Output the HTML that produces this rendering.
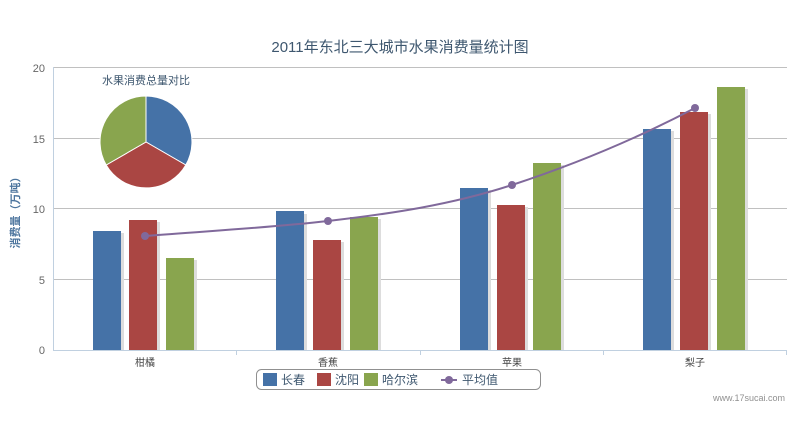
<!DOCTYPE html>
<html><head><meta charset="utf-8"><style>
body{margin:0;background:#fff;}
svg text{font-family:"Liberation Sans","Noto Sans CJK SC",sans-serif;}
</style></head><body>
<svg width="800" height="431" viewBox="0 0 800 431" xmlns="http://www.w3.org/2000/svg">
<rect width="800" height="431" fill="#fff"/>
<text x="400" y="52" text-anchor="middle" font-size="15" fill="#3E576F">2011年东北三大城市水果消费量统计图</text>
<g stroke="#C0C0C0" stroke-width="1">
<line x1="53" y1="67.5" x2="787" y2="67.5"/>
<line x1="53" y1="138.5" x2="787" y2="138.5"/>
<line x1="53" y1="208.5" x2="787" y2="208.5"/>
<line x1="53" y1="279.5" x2="787" y2="279.5"/>
</g>
<line x1="53.5" y1="67" x2="53.5" y2="350" stroke="#C0D0E0"/>
<line x1="53" y1="350.5" x2="787" y2="350.5" stroke="#C0D0E0"/>
<g stroke="#C0D0E0"><line x1="236.5" y1="350" x2="236.5" y2="355"/><line x1="420.5" y1="350" x2="420.5" y2="355"/><line x1="603.5" y1="350" x2="603.5" y2="355"/><line x1="786.5" y1="350" x2="786.5" y2="355"/></g>
<g font-size="11" fill="#666" text-anchor="end">
<text x="45" y="72">20</text><text x="45" y="143">15</text><text x="45" y="213">10</text><text x="45" y="284">5</text><text x="45" y="354">0</text>
</g>
<text transform="translate(19,210) rotate(-90)" text-anchor="middle" font-size="11" font-weight="bold" fill="#4D759E">消费量（万吨）</text>
<g fill="#ddd">
<rect x="96" y="233" width="28" height="117"/><rect x="132" y="222" width="28" height="128"/><rect x="169" y="260" width="28" height="90"/>
<rect x="279" y="214" width="28" height="136"/><rect x="316" y="242" width="28" height="108"/><rect x="353" y="219" width="28" height="131"/>
<rect x="463" y="190" width="28" height="160"/><rect x="500" y="207" width="28" height="143"/><rect x="536" y="165" width="28" height="185"/>
<rect x="646" y="131" width="28" height="219"/><rect x="683" y="114" width="28" height="236"/><rect x="720" y="89" width="28" height="261"/>
</g>
<g fill="#4572A7"><rect x="93" y="231" width="28" height="119"/><rect x="276" y="211" width="28" height="139"/><rect x="460" y="188" width="28" height="162"/><rect x="643" y="129" width="28" height="221"/></g>
<g fill="#AA4643"><rect x="129" y="220" width="28" height="130"/><rect x="313" y="240" width="28" height="110"/><rect x="497" y="205" width="28" height="145"/><rect x="680" y="112" width="28" height="238"/></g>
<g fill="#89A54E"><rect x="166" y="258" width="28" height="92"/><rect x="350" y="217" width="28" height="133"/><rect x="533" y="163" width="28" height="187"/><rect x="717" y="87" width="28" height="263"/></g>
<path d="M145,236 C206,231 267,228 328,221 C389,214 451,205 512,185 C573,165 634,140 695,108" fill="none" stroke="#80699B" stroke-width="2"/>
<g fill="#80699B"><circle cx="145" cy="236" r="4"/><circle cx="328" cy="221" r="4"/><circle cx="512" cy="185" r="4"/><circle cx="695" cy="108" r="4"/></g>
<text x="146" y="84" text-anchor="middle" font-size="11" fill="#3E576F">水果消费总量对比</text>
<g stroke="#fff" stroke-width="1">
<path d="M146,142 L146,96 A46,46 0 0 1 185.8,165 Z" fill="#4572A7"/>
<path d="M146,142 L185.8,165 A46,46 0 0 1 106.2,165 Z" fill="#AA4643"/>
<path d="M146,142 L106.2,165 A46,46 0 0 1 146,96 Z" fill="#89A54E"/>
</g>
<g font-size="10" fill="#444" text-anchor="middle">
<text x="145" y="366">柑橘</text><text x="328" y="366">香蕉</text><text x="512" y="366">苹果</text><text x="695" y="366">梨子</text>
</g>
<rect x="256.5" y="369.5" width="284" height="20" rx="5" fill="#fff" stroke="#909090"/>
<rect x="263" y="373" width="14" height="13" fill="#4572A7"/><text x="281" y="384" font-size="12" fill="#3E576F">长春</text>
<rect x="317" y="373" width="14" height="13" fill="#AA4643"/><text x="335" y="384" font-size="12" fill="#3E576F">沈阳</text>
<rect x="364" y="373" width="14" height="13" fill="#89A54E"/><text x="382" y="384" font-size="12" fill="#3E576F">哈尔滨</text>
<line x1="441" y1="380" x2="457" y2="380" stroke="#80699B" stroke-width="2"/><circle cx="449" cy="380" r="4" fill="#80699B"/><text x="462" y="384" font-size="12" fill="#3E576F">平均值</text>
<text x="785" y="401" text-anchor="end" font-size="9" fill="#909090">www.17sucai.com</text>
</svg>
</body></html>
